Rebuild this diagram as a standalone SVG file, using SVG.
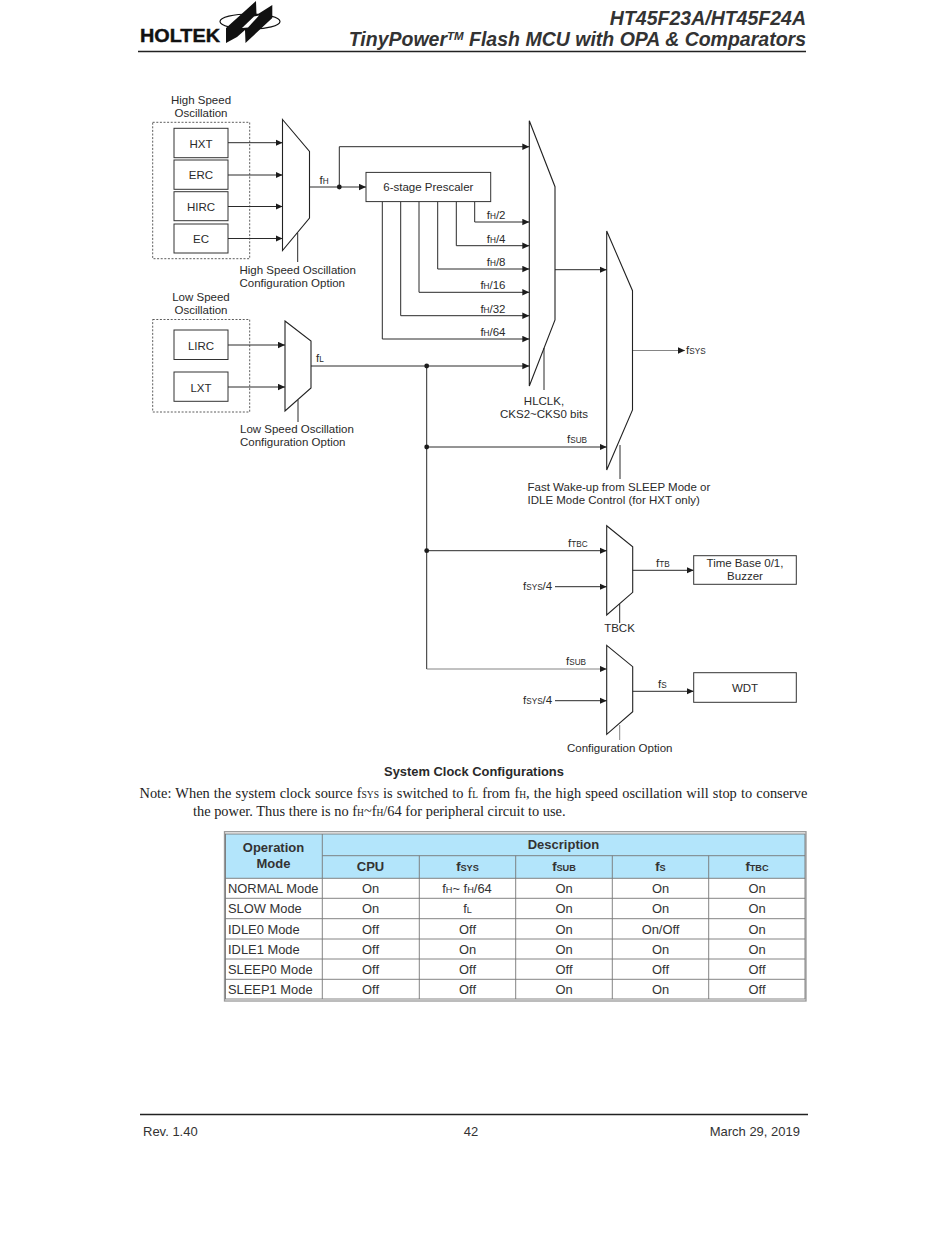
<svg xmlns="http://www.w3.org/2000/svg" width="950" height="1241" viewBox="0 0 950 1241">
<style>
text{font-family:"Liberation Sans",Arial,sans-serif;font-size:11.5px;fill:#2a2a2a}
.c{text-anchor:middle}
.e{text-anchor:end}
.s{font-size:8.2px}
.box{fill:#fff;stroke:#333;stroke-width:1}
.dash{fill:none;stroke:#333;stroke-width:.8;stroke-dasharray:2 1.6}
.mux{fill:none;stroke:#222;stroke-width:1.1;stroke-linejoin:miter}
.w{fill:none;stroke:#2a2a2a;stroke-width:1}
.a{marker-end:url(#arr)}
.thin{stroke:#666;stroke-width:.8}
.dot{fill:#1c1c1c}
.t{font-size:12.9px;fill:#333}
.h{font-size:13px;font-weight:bold;fill:#333}
.ts{font-size:9.2px}
.n{font-family:"Liberation Serif","Times New Roman",serif;font-size:14.4px;fill:#222}
.ns{font-size:9.5px}
.hd{font-size:19.5px;font-weight:bold;font-style:italic;fill:#333;text-anchor:end}
.f{font-size:13px;fill:#333}
.rule{stroke:#222;stroke-width:1.5}
.grid{stroke:#777;stroke-width:.9;fill:none}
.lbl{font-size:11.6px}
</style>
<defs>
<marker id="arr" markerUnits="userSpaceOnUse" markerWidth="8" markerHeight="8" refX="7" refY="3.5" orient="auto"><path d="M0 .3L7 3.5L0 6.7Z" fill="#1c1c1c"/></marker>
</defs>
<rect width="950" height="1241" fill="#fff"/>

<g id="header">
<text x="140" y="41.5" style="font-size:19px;font-weight:bold;fill:#111;stroke:#111;stroke-width:.4" textLength="80" lengthAdjust="spacingAndGlyphs">HOLTEK</text>
<ellipse cx="250" cy="21.5" rx="30" ry="7.5" fill="none" stroke="#111" stroke-width="1.2"/>
<path d="M256 1L256.5 15L272.3 5V18L245.5 43L245 30L237 37L226 43V28Z" fill="#111"/>
<path d="M242 28L254 16.5L259 15.5L248 27.5Z" fill="#fff"/>
<text class="hd" x="806" y="25">HT45F23A/HT45F24A</text>
<text class="hd" x="806" y="46">TinyPower<tspan font-size="11.5" dy="-6">TM</tspan><tspan dy="6"> Flash MCU with OPA &amp; Comparators</tspan></text>
<line class="rule" x1="138" y1="51.5" x2="806" y2="51.5"/>
</g>

<g id="connectors">
<path class="w a" d="M228 142.7H282.5"/>
<path class="w a" d="M228 175H282.5"/>
<path class="w a" d="M228 206.5H282.5"/>
<path class="w a" d="M228 238.5H282.5"/>
<path class="w" d="M297.7 233V262"/>
<path class="w a" d="M309.5 187H366"/>
<path class="w a" d="M339.3 187V146.7H529.3"/>
<path class="w a" d="M474.7 201.5V222H529.3"/>
<path class="w a" d="M456.3 201.5V245.7H529.3"/>
<path class="w a" d="M437.7 201.5V269H529.3"/>
<path class="w a" d="M419 201.5V292.3H529.3"/>
<path class="w a" d="M400.7 201.5V315.7H529.3"/>
<path class="w a" d="M382.3 201.5V339H529.3"/>
<path class="w a" d="M228 345H285"/>
<path class="w a" d="M228 387H285"/>
<path class="w" d="M298 400V422"/>
<path class="w a" d="M311 366H529.3"/>
<path class="w" d="M544 348V390"/>
<path class="w a" d="M555 269.7H606.7"/>
<path class="w thin a" d="M632.5 350.5H685"/>
<path class="w" d="M426.7 366V669"/>
<path class="w a" d="M426.7 447H606.7"/>
<path class="w" d="M620 445V479"/>
<path class="w a" d="M426.7 550.7H606.7"/>
<path class="w a" d="M555 586.7H606.7"/>
<path class="w thin a" d="M426.7 669H606.7"/>
<path class="w a" d="M555 700.7H606.7"/>
<path class="w a" d="M632.7 570.3H693.7"/>
<path class="w a" d="M632.7 691.3H693.7"/>
<path class="w" d="M619.7 604V623"/>
<path class="w thin" d="M619.7 725V740"/>
<circle class="dot" cx="339.3" cy="187" r="2.4"/>
<circle class="dot" cx="426.7" cy="366" r="2.4"/>
<circle class="dot" cx="426.7" cy="447" r="2.4"/>
<circle class="dot" cx="426.7" cy="550.7" r="2.4"/>
</g>

<g id="hs-group"><rect class="dash" x="152.7" y="122.3" width="97" height="136.4"/>
<text class="c" x="201" y="104">High Speed</text><text class="c" x="201" y="117">Oscillation</text></g>
<g id="hxt"><rect class="box" x="174" y="128.3" width="54" height="29.4"/><text class="c" x="201" y="147.5">HXT</text></g>
<g id="erc"><rect class="box" x="174" y="160" width="54" height="29.3"/><text class="c" x="201" y="179.3">ERC</text></g>
<g id="hirc"><rect class="box" x="174" y="191.7" width="54" height="29"/><text class="c" x="201" y="211">HIRC</text></g>
<g id="ec"><rect class="box" x="174" y="224" width="54" height="29"/><text class="c" x="201" y="243">EC</text></g>
<g id="mux-h"><path class="mux" d="M282.5 119.5L309.5 151.5V218L282.5 250.5Z"/>
<text x="319.5" y="184">f<tspan class="s">H</tspan></text>
<text x="239.5" y="274">High Speed Oscillation</text><text x="239.5" y="287">Configuration Option</text></g>

<g id="prescaler"><rect class="box" x="366" y="172.4" width="124.7" height="29.2"/><text class="c" x="428.3" y="191">6-stage Prescaler</text></g>

<g id="mux-hl"><path class="mux" d="M529.3 120.7L555 186.7V320L529.3 386Z"/>
<text class="e" x="505.5" y="219">f<tspan class="s">H</tspan>/2</text>
<text class="e" x="505.5" y="243">f<tspan class="s">H</tspan>/4</text>
<text class="e" x="505.5" y="266">f<tspan class="s">H</tspan>/8</text>
<text class="e" x="505.5" y="289">f<tspan class="s">H</tspan>/16</text>
<text class="e" x="505.5" y="313">f<tspan class="s">H</tspan>/32</text>
<text class="e" x="505.5" y="336">f<tspan class="s">H</tspan>/64</text>
<text class="c" x="544" y="405">HLCLK,</text><text class="c" x="544" y="418">CKS2~CKS0 bits</text></g>

<g id="ls-group"><rect class="dash" x="152.7" y="319.5" width="97" height="92.5"/>
<text class="c" x="201" y="301">Low Speed</text><text class="c" x="201" y="314">Oscillation</text></g>
<g id="lirc"><rect class="box" x="174" y="330" width="54" height="29.5"/><text class="c" x="201" y="349.5">LIRC</text></g>
<g id="lxt"><rect class="box" x="174" y="372" width="54" height="29.3"/><text class="c" x="201" y="391.5">LXT</text></g>
<g id="mux-l"><path class="mux" d="M285 321L311 341V388L285 411Z"/>
<text x="316" y="362">f<tspan class="s">L</tspan></text>
<text x="240" y="433">Low Speed Oscillation</text><text x="240" y="446">Configuration Option</text></g>

<g id="mux-sys"><path class="mux" d="M606.7 231L632.5 290.7V410L606.7 470Z"/>
<text x="686" y="354">f<tspan class="s">SYS</tspan></text>
<text x="567" y="443">f<tspan class="s">SUB</tspan></text>
<text x="527.5" y="491">Fast Wake-up from SLEEP Mode or</text><text x="527.5" y="504">IDLE Mode Control (for HXT only)</text></g>

<g id="mux-tb"><path class="mux" d="M606.7 525.7L632.7 546.7V592.3L606.7 615Z"/>
<text x="568" y="547">f<tspan class="s">TBC</tspan></text>
<text x="523" y="590">f<tspan class="s">SYS</tspan>/4</text>
<text x="656" y="567">f<tspan class="s">TB</tspan></text>
<text class="c" x="619.5" y="632">TBCK</text></g>
<g id="timebase"><rect class="box" x="693.7" y="555.7" width="102.6" height="28.6"/><text class="c" x="745" y="567">Time Base 0/1,</text><text class="c" x="745" y="580">Buzzer</text></g>

<g id="mux-wdt"><path class="mux" d="M606.7 645.3L632.7 666.7V711.7L606.7 734.3Z"/>
<text x="566" y="665">f<tspan class="s">SUB</tspan></text>
<text x="523" y="704">f<tspan class="s">SYS</tspan>/4</text>
<text x="658" y="688">f<tspan class="s">S</tspan></text>
<text class="c" x="619.7" y="752">Configuration Option</text></g>
<g id="wdt"><rect class="box" x="693.7" y="672.7" width="102.6" height="29.6"/><text class="c" x="745" y="692">WDT</text></g>

<g id="caption">
<text class="c" x="474" y="776" style="font-size:12.9px;font-weight:bold">System Clock Configurations</text>
<text class="n" x="139.5" y="798" style="word-spacing:.55px">Note: When the system clock source f<tspan class="ns">SYS</tspan> is switched to f<tspan class="ns">L</tspan> from f<tspan class="ns">H</tspan>, the high speed oscillation will stop to conserve</text>
<text class="n" x="193" y="816">the power. Thus there is no f<tspan class="ns">H</tspan>~f<tspan class="ns">H</tspan>/64 for peripheral circuit to use.</text>
</g>

<g id="mode-table">
<rect x="225" y="834" width="580" height="44.3" fill="#b3e5fb"/>
<rect x="224.5" y="831.7" width="581.5" height="169.3" fill="none" stroke="#999" stroke-width="1.3"/>
<rect x="225.5" y="834" width="579.5" height="165" class="grid"/>
<path class="grid" d="M322.3 834V999M419.3 855.7V999M515.7 855.7V999M612.3 855.7V999M708.7 855.7V999M322.3 855.7H805M225 878.3H805M225 898.3H805M225 918.7H805M225 939H805M225 959H805M225 979.3H805"/>
<text class="h c" x="273.5" y="852">Operation</text><text class="h c" x="273.5" y="868">Mode</text>
<text class="h c" x="563.5" y="849">Description</text>
<text class="h c" x="370.5" y="871">CPU</text>
<text class="h c" x="467.5" y="871">f<tspan class="ts">SYS</tspan></text>
<text class="h c" x="564" y="871">f<tspan class="ts">SUB</tspan></text>
<text class="h c" x="660.5" y="871">f<tspan class="ts">S</tspan></text>
<text class="h c" x="757" y="871">f<tspan class="ts">TBC</tspan></text>
<g class="rows">
<text class="t" x="228" y="893">NORMAL Mode</text><text class="t c" x="370.5" y="893">On</text><text class="t c" x="467" y="893">f<tspan class="ts">H</tspan>~ f<tspan class="ts">H</tspan>/64</text><text class="t c" x="564" y="893">On</text><text class="t c" x="660.5" y="893">On</text><text class="t c" x="757" y="893">On</text>
<text class="t" x="228" y="913">SLOW Mode</text><text class="t c" x="370.5" y="913">On</text><text class="t c" x="467.5" y="913">f<tspan class="ts">L</tspan></text><text class="t c" x="564" y="913">On</text><text class="t c" x="660.5" y="913">On</text><text class="t c" x="757" y="913">On</text>
<text class="t" x="228" y="934">IDLE0 Mode</text><text class="t c" x="370.5" y="934">Off</text><text class="t c" x="467.5" y="934">Off</text><text class="t c" x="564" y="934">On</text><text class="t c" x="660.5" y="934">On/Off</text><text class="t c" x="757" y="934">On</text>
<text class="t" x="228" y="954">IDLE1 Mode</text><text class="t c" x="370.5" y="954">Off</text><text class="t c" x="467.5" y="954">On</text><text class="t c" x="564" y="954">On</text><text class="t c" x="660.5" y="954">On</text><text class="t c" x="757" y="954">On</text>
<text class="t" x="228" y="974">SLEEP0 Mode</text><text class="t c" x="370.5" y="974">Off</text><text class="t c" x="467.5" y="974">Off</text><text class="t c" x="564" y="974">Off</text><text class="t c" x="660.5" y="974">Off</text><text class="t c" x="757" y="974">Off</text>
<text class="t" x="228" y="994">SLEEP1 Mode</text><text class="t c" x="370.5" y="994">Off</text><text class="t c" x="467.5" y="994">Off</text><text class="t c" x="564" y="994">On</text><text class="t c" x="660.5" y="994">On</text><text class="t c" x="757" y="994">Off</text>
</g>
</g>

<g id="footer">
<line class="rule" x1="140" y1="1114.5" x2="808" y2="1114.5"/>
<text class="f" x="143" y="1136">Rev. 1.40</text>
<text class="f c" x="471" y="1136">42</text>
<text class="f e" x="800" y="1136">March 29, 2019</text>
</g>
</svg>
